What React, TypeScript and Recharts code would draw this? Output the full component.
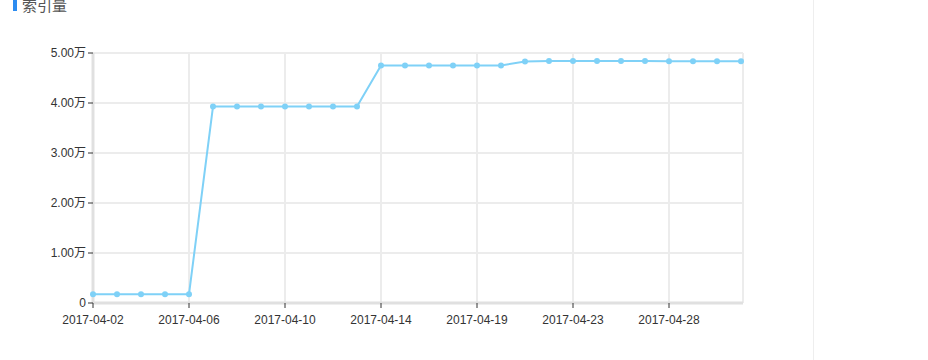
import { LineChart, Line, XAxis, YAxis, CartesianGrid } from 'recharts'

const dates = [
  '2017-04-02', '2017-04-03', '2017-04-04', '2017-04-05', '2017-04-06', '2017-04-07', '2017-04-08',
  '2017-04-09', '2017-04-10', '2017-04-11', '2017-04-12', '2017-04-13', '2017-04-14', '2017-04-15',
  '2017-04-17', '2017-04-18', '2017-04-19', '2017-04-20', '2017-04-21', '2017-04-22', '2017-04-23',
  '2017-04-24', '2017-04-26', '2017-04-27', '2017-04-28', '2017-04-29', '2017-04-30', '2017-05-01',
]

const indexCounts = [
  1750, 1750, 1750, 1750, 1750, 39300, 39300, 39300, 39300, 39300, 39300, 39300, 47500, 47500,
  47500, 47500, 47500, 47500, 48300, 48400, 48400, 48400, 48400, 48400, 48350, 48350, 48350, 48350,
]

const yTicks = [0, 10000, 20000, 30000, 40000, 50000]

const fmtY = (v: number) => (v === 0 ? '0' : (v / 10000).toFixed(2) + '万')

export default function App() {
  const data = dates.map((d, i) => ({ date: d, value: indexCounts[i] }))
  const font = 'Arial, "Liberation Sans", "Noto Sans CJK SC", sans-serif'

  return (
    <div style={{ position: 'absolute', left: 0, top: 0, width: 928, height: 360, background: '#fff', overflow: 'hidden', fontFamily: font }}>
      <div style={{ position: 'absolute', left: 13, top: 0, width: 4, height: 11, background: '#2d8cf0' }} />
      <div style={{ position: 'absolute', left: 22, top: -3, fontSize: 15, color: '#555', lineHeight: '18px' }}>索引量</div>
      <div style={{ position: 'absolute', left: 813, top: 0, width: 1, height: 360, background: '#eee' }} />
      <LineChart width={928} height={360} data={data} margin={{ top: 53, right: 185, bottom: 27, left: 0 }} style={{ position: 'absolute', left: 0, top: 0 }}>
        <CartesianGrid stroke="#ececec" strokeWidth={2} />
        <XAxis
          dataKey="date"
          interval={3}
          padding={{ left: 0, right: 2 }}
          height={30}
          axisLine={{ stroke: '#e0e0e0', strokeWidth: 3 }}
          tickLine={{ stroke: '#333' }}
          tickSize={5}
          tickMargin={7}
          tick={{ fontSize: 12, fill: '#333', fontFamily: font }}
        />
        <YAxis
          width={93}
          domain={[0, 50000]}
          ticks={yTicks}
          tickFormatter={fmtY}
          axisLine={{ stroke: '#e0e0e0', strokeWidth: 3 }}
          tickLine={{ stroke: '#333' }}
          tickSize={5}
          tick={{ fontSize: 12, fill: '#333', fontFamily: font }}
        />
        <YAxis yAxisId="r" orientation="right" width={0} tick={false} tickLine={false} axisLine={{ stroke: '#cfcfcf' }} />
        <Line
          type="linear"
          dataKey="value"
          stroke="#7fd1f7"
          strokeWidth={2}
          dot={{ r: 3, fill: '#7fd1f7', stroke: '#7fd1f7', strokeWidth: 0 }}
          isAnimationActive={false}
        />
      </LineChart>
    </div>
  )
}
